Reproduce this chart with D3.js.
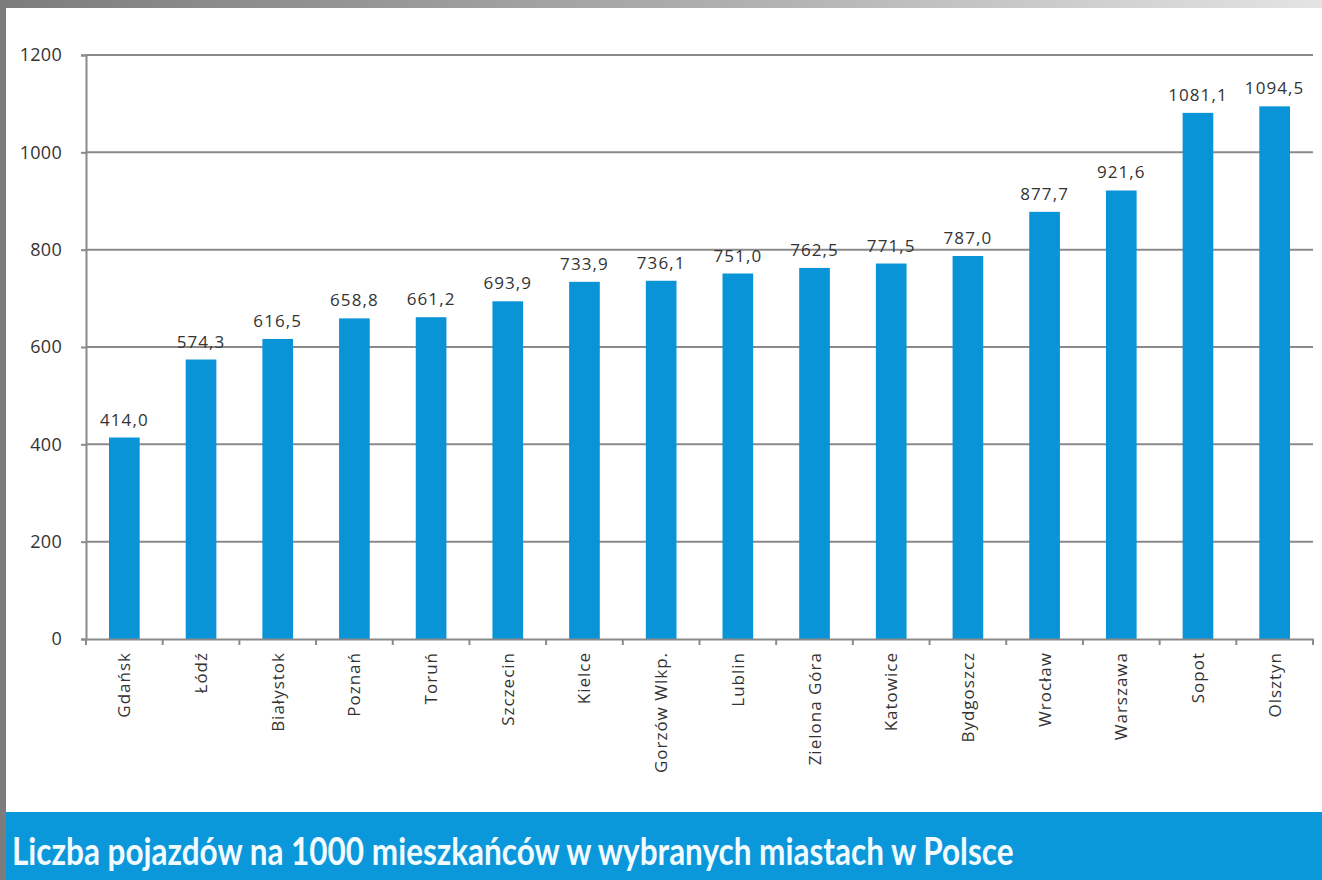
<!DOCTYPE html>
<html><head><meta charset="utf-8">
<script src="https://cdn.jsdelivr.net/npm/d3@7"></script>
<style>html,body{margin:0;padding:0;background:#fff;overflow:hidden}</style>
</head><body>
<svg id="c" width="1322" height="880"></svg>
<script>
const cities = ["Gdańsk","Łódź","Białystok","Poznań","Toruń","Szczecin","Kielce","Gorzów Wlkp.","Lublin","Zielona Góra","Katowice","Bydgoszcz","Wrocław","Warszawa","Sopot","Olsztyn"];
const values = [414.0,574.3,616.5,658.8,661.2,693.9,733.9,736.1,751.0,762.5,771.5,787.0,877.7,921.6,1081.1,1094.5];
const yTicks = [0,200,400,600,800,1000,1200];
const title = "Liczba pojazdów na 1000 mieszkańców w wybranych miastach w Polsce";

const svg = d3.select("#c");
const W = 1322, H = 880;
const m = {left:86, right:1313, top:55, bottom:639};

// background frame
const defs = svg.append("defs");
const g1 = defs.append("linearGradient").attr("id","topg").attr("x1","0").attr("x2","1");
g1.append("stop").attr("offset","0").attr("stop-color","#7c7c7c");
g1.append("stop").attr("offset","0.6").attr("stop-color","#b4b4b4");
g1.append("stop").attr("offset","1").attr("stop-color","#e4e4e4");
svg.append("rect").attr("x",0).attr("y",0).attr("width",W).attr("height",H).attr("fill","#fff");
svg.append("rect").attr("x",0).attr("y",0).attr("width",W).attr("height",8).attr("fill","url(#topg)");
svg.append("rect").attr("x",0).attr("y",0).attr("width",6).attr("height",H).attr("fill","#7c7c7c");

const x = d3.scaleBand().domain(cities).range([m.left, m.right]).paddingInner(0.6).paddingOuter(0.3);
const xb = d3.scaleBand().domain(cities).range([m.left, m.right]);
const y = d3.scaleLinear().domain([0,1200]).range([m.bottom, m.top]);

// gridlines
svg.append("g").selectAll("line").data(yTicks.filter(d=>d>0)).join("line")
  .attr("x1",m.left).attr("x2",m.right).attr("y1",d=>y(d)).attr("y2",d=>y(d))
  .attr("stroke","#8a8a8a").attr("stroke-width",2);

// y axis
const ya = svg.append("g").attr("transform",`translate(${m.left},0)`)
  .call(d3.axisLeft(y).tickValues(yTicks).tickSize(5).tickPadding(19).tickFormat(d3.format("d")));
ya.select(".domain").attr("stroke","#8a8a8a").attr("stroke-width",2);
ya.selectAll(".tick line").attr("stroke","#8a8a8a").attr("stroke-width",2);
ya.selectAll("text").attr("font-family","'Open Sans',sans-serif").attr("font-size",18)
  .attr("letter-spacing","0.3px").attr("fill","#333");

// bars
svg.append("g").selectAll("rect").data(values).join("rect")
  .attr("x",(d,i)=>x(cities[i])).attr("width",x.bandwidth())
  .attr("y",d=>y(d)).attr("height",d=>y(0)-y(d)).attr("fill","#0a94d8");

// x axis
const xa = svg.append("g").attr("transform",`translate(0,${m.bottom})`)
  .call(d3.axisBottom(xb).tickSize(0).tickPadding(0));
xa.select(".domain").attr("stroke","#8a8a8a").attr("stroke-width",2);
xa.selectAll(".tick text").remove();
// boundary ticks
const bounds = cities.map(c=>xb(c)).concat([m.right]);
svg.append("g").selectAll("line").data(bounds).join("line")
  .attr("x1",d=>d).attr("x2",d=>d).attr("y1",m.bottom).attr("y2",m.bottom+6)
  .attr("stroke","#8a8a8a").attr("stroke-width",2);
// rotated labels
svg.append("g").selectAll("text").data(cities).join("text")
  .attr("transform",d=>`translate(${xb(d)+xb.bandwidth()/2+6},${m.bottom+13}) rotate(-90)`)
  .attr("text-anchor","end").attr("font-family","'Open Sans',sans-serif").attr("font-size",17)
  .attr("letter-spacing","1px").attr("fill","#333").text(d=>d);

// value labels
const fmt = v => v.toFixed(1).replace(".",",");
svg.append("g").selectAll("text").data(values).join("text")
  .attr("x",(d,i)=>x(cities[i])+x.bandwidth()/2).attr("y",d=>y(d)-12)
  .attr("text-anchor","middle").attr("font-family","'Open Sans',sans-serif").attr("font-size",17)
  .attr("letter-spacing","1.1px").attr("fill","#333").text(fmt);

// banner
svg.append("rect").attr("x",6).attr("y",812).attr("width",W-6).attr("height",H-812).attr("fill","#0a98db");
svg.append("text").attr("transform","translate(12,865) scale(1,1.2)")
  .attr("font-family","Lato,sans-serif").attr("font-weight","bold")
  .attr("font-size",31.5).attr("fill","#f2fbff").text(title);
</script>
</body></html>
